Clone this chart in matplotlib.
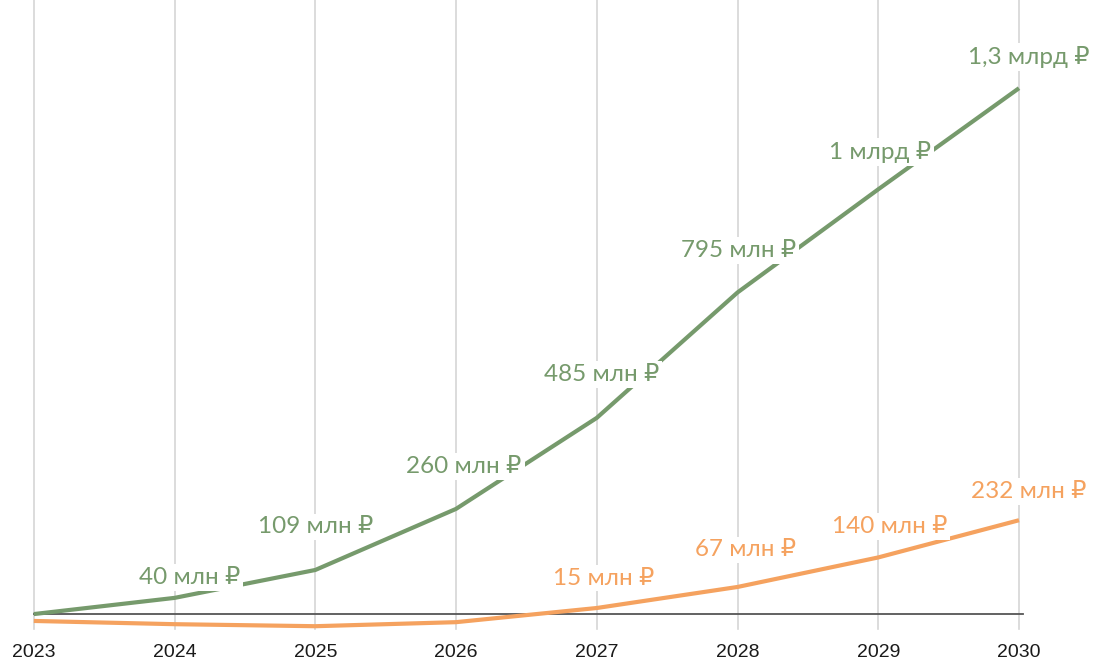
import matplotlib.pyplot as plt

years = [2023, 2024, 2025, 2026, 2027, 2028, 2029, 2030]
green_vals = [0, 40, 109, 260, 485, 795, 1050, 1300]
orange_vals = [-17, -25, -30, -20, 15, 67, 140, 232]

green_labels = ["", "40 млн ₽", "109 млн ₽", "260 млн ₽", "485 млн ₽",
                "795 млн ₽", "1 млрд ₽", "1,3 млрд ₽"]
orange_labels = ["", "", "", "", "15 млн ₽", "67 млн ₽", "140 млн ₽", "232 млн ₽"]

# label offsets in pixels (dx, dy up) from each point
green_off = [(0, 0), (15, 20), (0, 43), (8, 42), (5, 43), (1, 42), (2, 37), (10, 31)]
orange_off = [(0, 0), (0, 0), (0, 0), (0, 0), (7, 30), (8, 37), (11, 31), (10, 29)]

GREEN = "#769a6c"
ORANGE = "#f5a25f"
label_font = ["Lato", "DejaVu Sans"]

fig = plt.figure(figsize=(10.95, 6.61), dpi=100)
ax = fig.add_axes([0, 0, 1, 1])
ax.set_xlim(2022.76, 2030.54)
ax.set_ylim(-116, 1518)
ax.axis("off")

# vertical grid lines
for yr in years:
    ax.plot([yr, yr], [-37, 1518], color="#d6d6d6", lw=1.2, zorder=1)
    ax.text(yr, -94, str(yr), ha="center", va="center", fontsize=14,
            family="Liberation Sans", color="#1a1a1a")

ax.plot([2023, 2030.03], [0, 0], color="#555555", lw=1.3, zorder=2)

ax.plot(years, green_vals, color=GREEN, lw=3, zorder=3, solid_capstyle="butt")
ax.plot(years, orange_vals, color=ORANGE, lw=3, zorder=3, solid_capstyle="butt")

def put_labels(vals, labels, offs, color):
    for yr, v, lab, (dx, dy) in zip(years, vals, labels, offs):
        if not lab:
            continue
        ax.annotate(lab, (yr, v), xytext=(dx * 0.72, dy * 0.72),
                    textcoords="offset points", ha="center", va="center",
                    fontsize=17.5, family=label_font, color=color, zorder=5,
                    bbox=dict(boxstyle="square,pad=0.12", fc="white", ec="none"))

put_labels(green_vals, green_labels, green_off, GREEN)
put_labels(orange_vals, orange_labels, orange_off, ORANGE)

fig.savefig("out.png", dpi=100)
